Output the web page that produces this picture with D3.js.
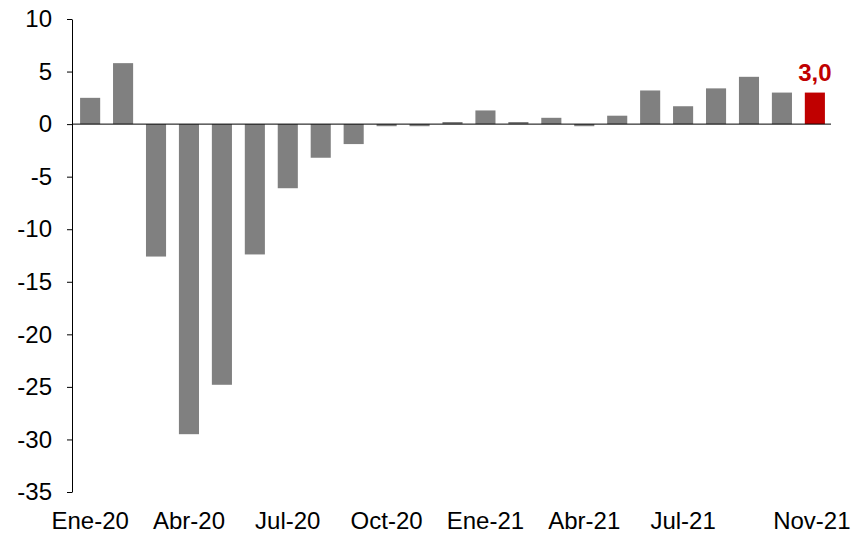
<html><head><meta charset="utf-8">
<script src="https://cdn.jsdelivr.net/npm/d3@7"></script>
<style>body{margin:0;background:#fff}</style>
</head><body>
<script>
// datos
const meses = ["Ene-20","Feb-20","Mar-20","Abr-20","May-20","Jun-20","Jul-20","Ago-20","Sep-20","Oct-20","Nov-20","Dic-20",
  "Ene-21","Feb-21","Mar-21","Abr-21","May-21","Jun-21","Jul-21","Ago-21","Sep-21","Oct-21","Nov-21"];
const valores = [2.5,5.8,-12.6,-29.5,-24.8,-12.4,-6.1,-3.2,-1.9,-0.2,-0.2,0.2,1.3,0.2,0.6,-0.2,0.8,3.2,1.7,3.4,4.5,3.0,3.0];
const etiquetas = ["Ene-20","Abr-20","Jul-20","Oct-20","Ene-21","Abr-21","Jul-21","Nov-21"];
const yTicks = [10,5,0,-5,-10,-15,-20,-25,-30,-35];

const tabla = meses.map((m,i) => ({mes:m, v:valores[i]}));

let svg = d3.select("body").append("svg").attr("width",851).attr("height",535)
  .style("font-family","'Liberation Sans', Arial, sans-serif");

let x = d3.scaleBand().domain(meses).range([73.5,831.5]).paddingInner(0.39).paddingOuter(0.2);
let y = d3.scaleLinear().domain([-35,10]).range([492,19]);

// eje Y
let ay = svg.append("g").attr("transform","translate(72,0)")
  .call(d3.axisLeft(y).tickValues(yTicks).tickFormat(d => String(d)).tickSize(5).tickSizeOuter(0));
ay.select(".domain").attr("stroke","#000");
ay.selectAll("text").style("font-size","24px").style("font-family","'Liberation Sans', Arial, sans-serif")
  .attr("x",-20).attr("fill","#000");

// barras
svg.selectAll("rect.b").data(tabla).enter().append("rect")
  .attr("x", d => x(d.mes))
  .attr("width", x.bandwidth())
  .attr("y", d => y(Math.max(0,d.v)))
  .attr("height", d => Math.abs(y(d.v)-y(0)))
  .attr("fill", (d,i) => i === tabla.length-1 ? "#c00000" : "#808080");

// linea cero
svg.append("line").attr("x1",72).attr("x2",831).attr("y1",y(0)).attr("y2",y(0)).attr("stroke","#000");

// etiquetas X
svg.selectAll("text.xl").data(etiquetas).enter().append("text")
  .attr("x", (d,i) => x(d)+x.bandwidth()/2 - (i === etiquetas.length-1 ? 3 : 0)).attr("y",529)
  .attr("text-anchor","middle").style("font-size","24px").text(d => d);

// valor final
const ult = tabla[tabla.length-1];
svg.append("text").attr("x", x(ult.mes)+x.bandwidth()/2).attr("y", y(ult.v)-12)
  .attr("text-anchor","middle").style("font-size","24px").style("font-weight","bold")
  .attr("fill","#c00000").text(ult.v.toFixed(1).replace(".",","));
</script>
</body></html>
